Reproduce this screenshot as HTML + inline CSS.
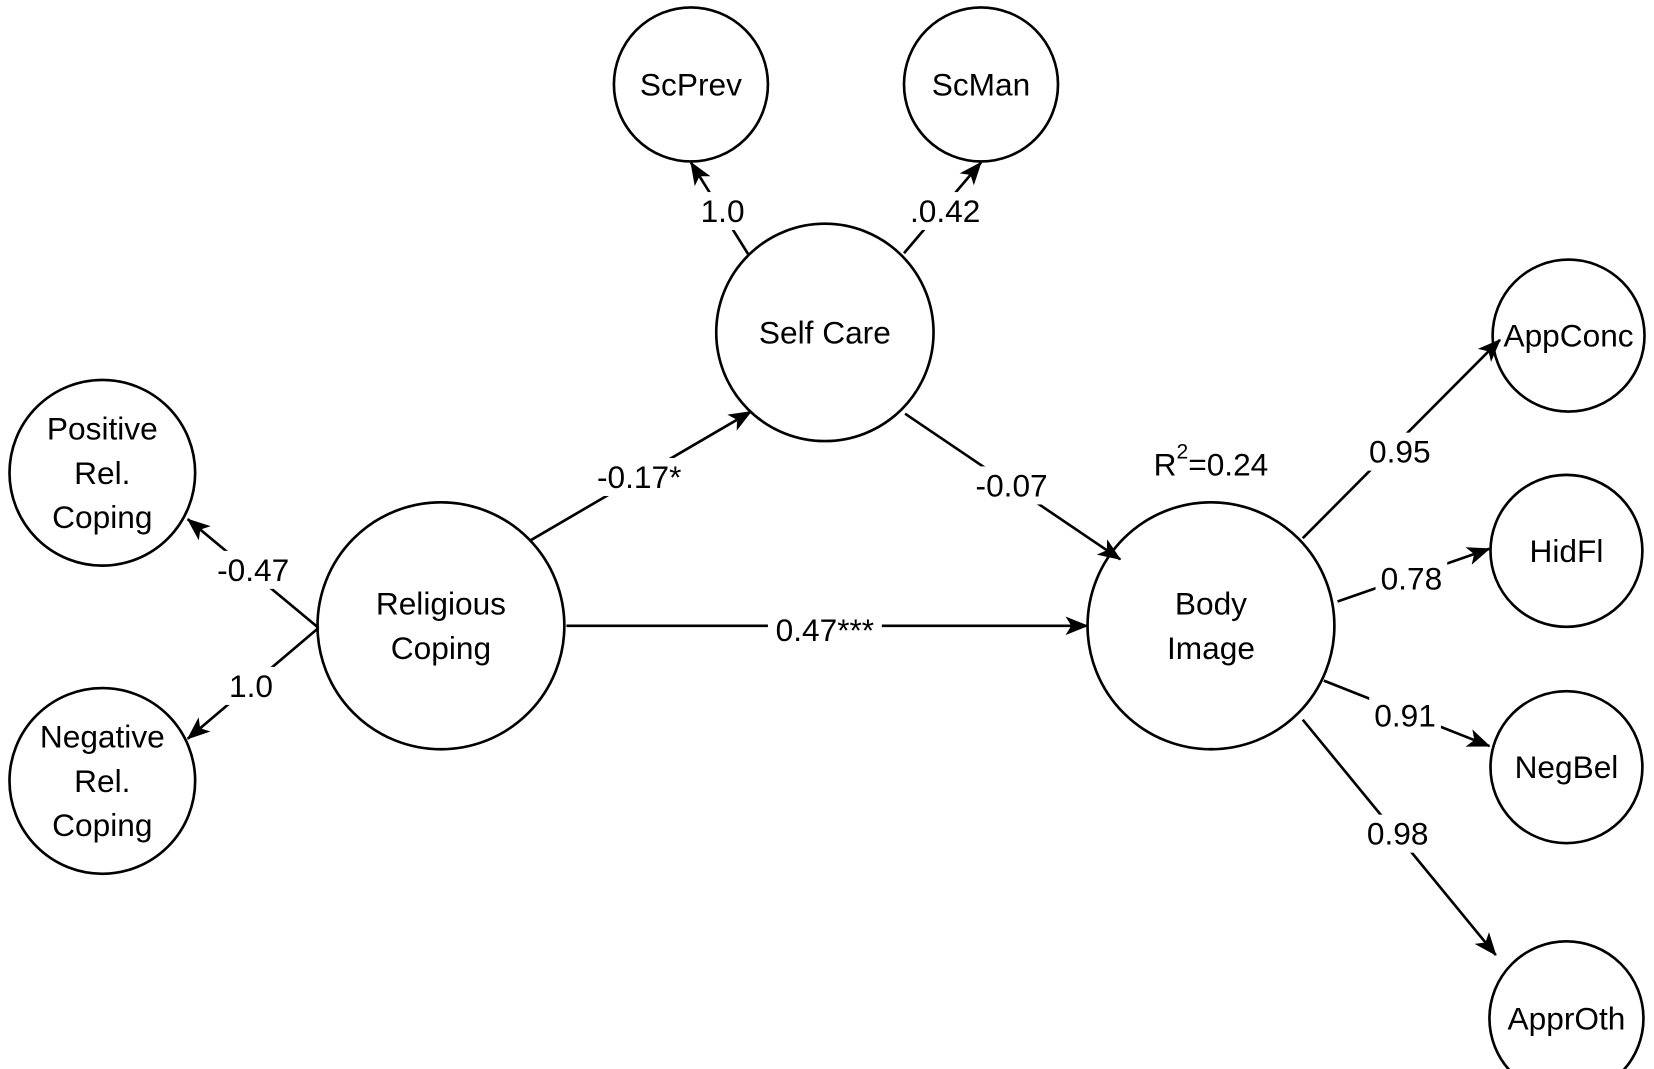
<!DOCTYPE html>
<html><head><meta charset="utf-8"><style>
html,body{margin:0;padding:0;background:#fff;}
svg{display:block;}
text{font-family:"Liberation Sans",sans-serif;font-size:30px;fill:#000;text-anchor:middle;dominant-baseline:central;}
</style></head><body>
<svg width="1654" height="1069" viewBox="0 0 1568 1013" preserveAspectRatio="none">
<defs>
<marker id="a" viewBox="0 0 10 10" refX="9" refY="5" markerWidth="9" markerHeight="9" markerUnits="userSpaceOnUse" orient="auto">
</marker>
<marker id="h" viewBox="0 0 20 16" refX="19" refY="8" markerWidth="22" markerHeight="18" markerUnits="userSpaceOnUse" orient="auto">
<path d="M0,0 L20,8 L0,16 L5,8 Z" fill="#000"/>
</marker>
</defs>
<g fill="#fff" stroke="#000" stroke-width="2.5">
<circle cx="655" cy="80" r="73"/>
<circle cx="930" cy="80" r="73"/>
<circle cx="782" cy="315" r="103"/>
<circle cx="97" cy="448" r="88"/>
<circle cx="97" cy="740" r="88"/>
<circle cx="418" cy="593" r="117"/>
<circle cx="1148" cy="593" r="117"/>
<circle cx="1487" cy="318" r="72"/>
<circle cx="1485" cy="522" r="72"/>
<circle cx="1485" cy="727" r="72"/>
<circle cx="1485" cy="965" r="73"/>
</g>
<g stroke="#000" stroke-width="2.5" fill="none" marker-end="url(#h)">
<line x1="503" y1="512" x2="712" y2="390"/>
<line x1="858" y1="392" x2="1062" y2="530"/>
<line x1="537" y1="593" x2="1031" y2="593"/>
<line x1="302" y1="595" x2="178" y2="492"/>
<line x1="302" y1="595" x2="178" y2="700"/>
<line x1="710" y1="242" x2="655" y2="154"/>
<line x1="857" y1="240" x2="930" y2="154"/>
<line x1="1235" y1="510" x2="1422" y2="322"/>
<line x1="1268" y1="570" x2="1412" y2="520"/>
<line x1="1255" y1="645" x2="1412" y2="707"/>
<line x1="1235" y1="682" x2="1418" y2="905"/>
</g>
<g fill="#fff">
<rect x="560" y="434" width="92" height="36"/>
<rect x="918" y="442" width="82" height="36"/>
<rect x="728" y="580" width="108" height="34"/>
<rect x="200" y="522" width="80" height="36"/>
<rect x="212" y="632" width="52" height="36"/>
<rect x="660" y="182" width="50" height="36"/>
<rect x="858" y="182" width="76" height="36"/>
<rect x="1292" y="410" width="70" height="36"/>
<rect x="1304" y="530" width="68" height="36"/>
<rect x="1298" y="660" width="68" height="36"/>
<rect x="1290" y="772" width="70" height="36"/>
</g>
<text x="655" y="80">ScPrev</text>
<text x="930" y="80">ScMan</text>
<text x="782" y="315">Self Care</text>
<text x="97" y="406">Positive</text>
<text x="97" y="448">Rel.</text>
<text x="97" y="490">Coping</text>
<text x="97" y="698">Negative</text>
<text x="97" y="740">Rel.</text>
<text x="97" y="782">Coping</text>
<text x="418" y="572">Religious</text>
<text x="418" y="614">Coping</text>
<text x="1148" y="572">Body</text>
<text x="1148" y="614">Image</text>
<text x="1487" y="318">AppConc</text>
<text x="1485" y="522">HidFl</text>
<text x="1485" y="727">NegBel</text>
<text x="1485" y="965">ApprOth</text>
<text x="606" y="452">-0.17*</text>
<text x="959" y="460">-0.07</text>
<text x="782" y="597">0.47***</text>
<text x="240" y="540">-0.47</text>
<text x="238" y="650">1.0</text>
<text x="685" y="200">1.0</text>
<text x="896" y="200">.0.42</text>
<text x="1327" y="428">0.95</text>
<text x="1338" y="548">0.78</text>
<text x="1332" y="678">0.91</text>
<text x="1325" y="790">0.98</text>
<text x="1148" y="440">R<tspan font-size="20" dy="-12">2</tspan><tspan dy="12">=0.24</tspan></text>
</svg>
</body></html>
